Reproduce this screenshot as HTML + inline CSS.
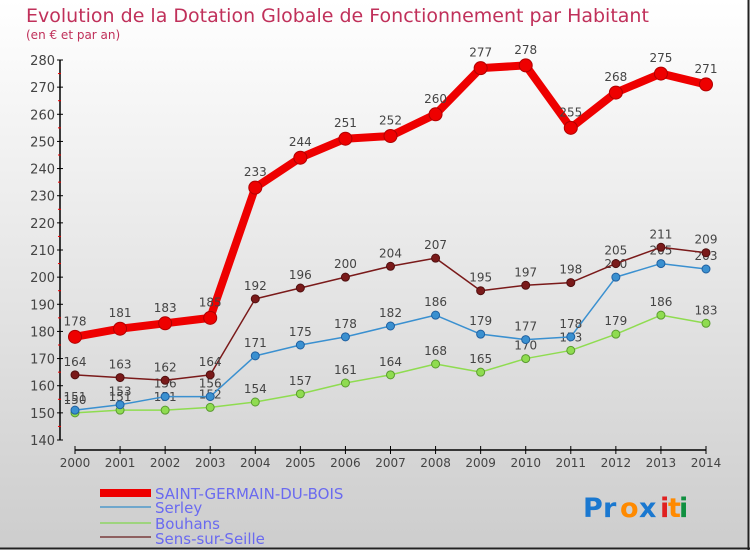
<!DOCTYPE html>
<html><head><meta charset="utf-8"><style>
html,body{margin:0;padding:0;}
body{width:750px;height:550px;overflow:hidden;font-family:"DejaVu Sans","Liberation Sans",sans-serif;}
</style></head><body>
<svg id="chart" width="750" height="550" xmlns="http://www.w3.org/2000/svg">
<defs>
<linearGradient id="bg" x1="0" y1="0" x2="0" y2="1">
<stop offset="0" stop-color="#ffffff"/><stop offset="1" stop-color="#cdcdcd"/>
</linearGradient>
</defs>
<rect x="0" y="0" width="748" height="548" fill="url(#bg)"/>
<line x1="748.5" y1="0" x2="748.5" y2="550" stroke="#222" stroke-width="2"/>
<line x1="0" y1="548.5" x2="750" y2="548.5" stroke="#222" stroke-width="2"/>
<text x="26" y="22" font-size="19" fill="#c0305a">Evolution de la Dotation Globale de Fonctionnement par Habitant</text>
<text x="26" y="39" font-size="12" fill="#c0305a">(en € et par an)</text>
<g id="axes"></g>
<g id="series"></g>
<g id="legend">
<rect x="100" y="489" width="51" height="8" fill="#ee0000"/>
<text x="155" y="499" font-size="15" fill="#6a6af0">SAINT-GERMAIN-DU-BOIS</text>
<line x1="100" y1="507" x2="151" y2="507" stroke="#6fa7cc" stroke-width="2"/>
<text x="155" y="513" font-size="15" fill="#6a6af0">Serley</text>
<line x1="100" y1="523" x2="151" y2="523" stroke="#9ed47e" stroke-width="2"/>
<text x="155" y="529" font-size="15" fill="#6a6af0">Bouhans</text>
<line x1="100" y1="537" x2="151" y2="537" stroke="#8e6060" stroke-width="2"/>
<text x="155" y="544" font-size="15" fill="#6a6af0">Sens-sur-Seille</text>
</g>
<g font-size="27" font-family="DejaVu Sans, sans-serif" font-weight="bold">
<text x="583" y="517" fill="#1a78d0">P</text><text x="603" y="517" fill="#1a78d0">r</text>
<text x="620" y="517" fill="#ff8a00">o</text><text x="639" y="517" fill="#1a78d0">x</text>
<text x="660" y="517" fill="#e02020">i</text><text x="668" y="517" fill="#ff8a00">t</text><text x="679" y="517" fill="#109040">i</text>
</g>
</svg>
<script>
const years=["2000","2001","2002","2003","2004","2005","2006","2007","2008","2009","2010","2011","2012","2013","2014"];
const yTicks=[140,150,160,170,180,190,200,210,220,230,240,250,260,270,280];
const saintGermain=[178,181,183,185,233,244,251,252,260,277,278,255,268,275,271];
const serley=[151,153,156,156,171,175,178,182,186,179,177,178,200,205,203];
const bouhans=[150,151,151,152,154,157,161,164,168,165,170,173,179,186,183];
const sensSurSeille=[164,163,162,164,192,196,200,204,207,195,197,198,205,211,209];
const NS="http://www.w3.org/2000/svg";
const x0=75,x1=706,yMin=140,yMax=280,py0=440,py1=60;
function xs(i){return x0+(x1-x0)*i/(years.length-1);}
function ys(v){return py0-(v-yMin)/(yMax-yMin)*(py0-py1);}
function mk(tag,attrs,parent){const e=document.createElementNS(NS,tag);for(const k in attrs)e.setAttribute(k,attrs[k]);parent.appendChild(e);return e;}
const ax=document.getElementById('axes');
let yl=mk('line',{x1:60,y1:ys(yMax),x2:60,y2:py0,stroke:'#000','stroke-width':1.5},ax);


let xl=mk('line',{x1:x0,y1:450,x2:x1,y2:450,stroke:'#000','stroke-width':1.5},ax);


yTicks.forEach(v=>{
 mk('line',{x1:57,y1:ys(v),x2:63,y2:ys(v),stroke:'#000'},ax);
 if(v<yMax) mk('line',{x1:58,y1:ys(v+5),x2:61,y2:ys(v+5),stroke:'#e00'},ax);
 const t=mk('text',{x:55,y:ys(v)+5,'font-size':13,fill:'#444','text-anchor':'end'},ax);
 
 
 t.textContent=v;
});
years.forEach((y,i)=>{
 mk('line',{x1:xs(i),y1:446,x2:xs(i),y2:454,stroke:'#000'},ax);
 const t=mk('text',{x:xs(i),y:467,'font-size':12,fill:'#444','text-anchor':'middle'},ax);
 
 
 t.textContent=y;
});
const sg=document.getElementById('series');
function draw(name,data,color,dark,w,r,fs){
 const g=mk('g',{},sg);
 
 
 const pts=data.map((v,i)=>xs(i)+','+ys(v)).join(' ');
 mk('polyline',{points:pts,fill:'none',stroke:color,'stroke-width':w,'stroke-linejoin':'round'},g);
 data.forEach((v,i)=>{
  const c=mk('circle',{cx:xs(i),cy:ys(v),r:r,fill:color,stroke:dark,'stroke-width':1},g);
  
  
  const t=mk('text',{x:xs(i),y:ys(v)-r-5,'font-size':fs,fill:'#444','text-anchor':'middle'},g);
  
  
  t.textContent=v;
 });
}
draw('bouhans',bouhans,'#8fdc50','#5a9a30',1.5,4,12);
draw('serley',serley,'#3a90d0','#2060a0',1.5,4,12);
draw('sens-sur-seille',sensSurSeille,'#7a1a1a','#501010',1.5,4,12);
draw('saint-germain-du-bois',saintGermain,'#ee0000','#b00000',8,6.5,12);
</script>
</body></html>
